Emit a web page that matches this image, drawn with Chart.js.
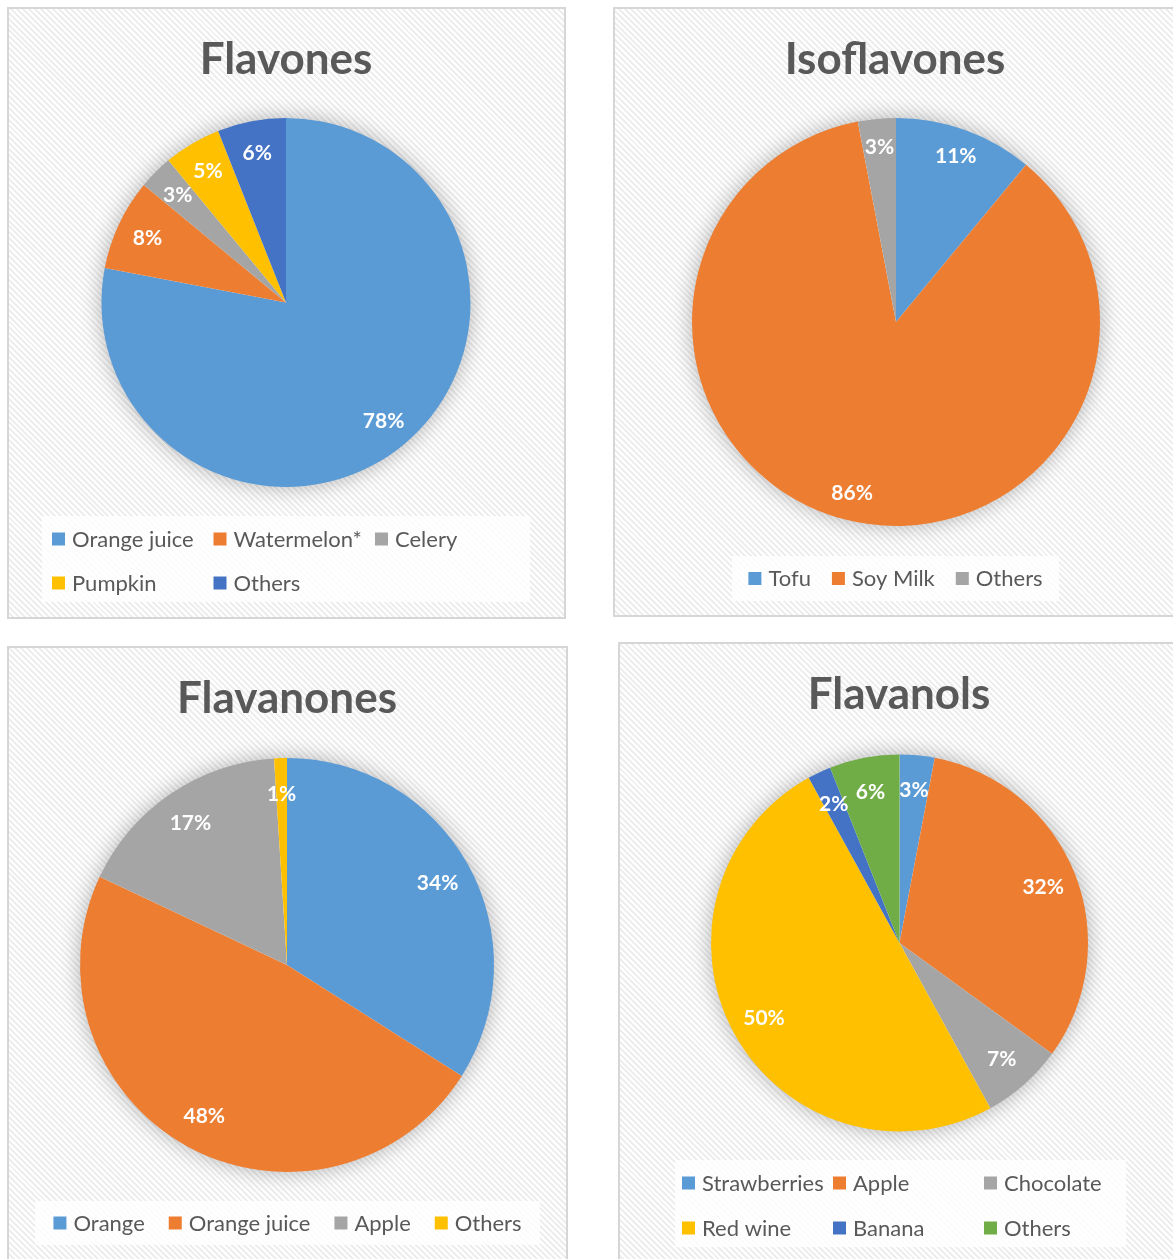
<!DOCTYPE html>
<html>
<head>
<meta charset="utf-8">
<script src="https://cdn.jsdelivr.net/npm/chart.js@4.4.1/dist/chart.umd.min.js"></script>
<style>
  html, body { margin: 0; padding: 0; background: #ffffff; }
  #page { position: relative; width: 1173px; height: 1259px; overflow: hidden; background: #ffffff; }
  .panel {
    position: absolute; box-sizing: border-box; border: 2px solid #d6d6d6;
    background: repeating-linear-gradient(45deg, #ffffff 0px, #ffffff 2.1px, #eeeeee 2.1px, #eeeeee 4.2px);
  }
  .panel canvas { position: absolute; left: -2px; top: -2px; }
</style>
</head>
<body>
<div id="page"></div>
<script>
// Flavonoid sources, share of intake (%)
const flavonesLabels = ['Orange juice', 'Watermelon*', 'Celery', 'Pumpkin', 'Others'];
const flavonesValues = [78, 8, 3, 5, 6];

const isoflavonesLabels = ['Tofu', 'Soy Milk', 'Others'];
const isoflavonesValues = [11, 86, 3];

const flavanonesLabels = ['Orange', 'Orange juice', 'Apple', 'Others'];
const flavanonesValues = [34, 48, 17, 1];

const flavanolsLabels = ['Strawberries', 'Apple', 'Chocolate', 'Red wine', 'Banana', 'Others'];
const flavanolsValues = [3, 32, 7, 50, 2, 6];

const PALETTE = ['#5B9BD5', '#ED7D31', '#A5A5A5', '#FFC000', '#4472C4', '#70AD47'];
const TEXT_GREY = '#595959';
const FONT = 'Lato, "Open Sans", sans-serif';
const TITLE_SIZE = 44, LEGEND_SIZE = 22, VALUE_SIZE = 21;
const CAP = 0.7165; // cap height / em for Lato

const panels = [
  { title: 'Flavones', labels: flavonesLabels, values: flavonesValues,
    box: { x: 7, y: 7, w: 559, h: 612 }, pie: { cx: 286, cy: 302.5, r: 184.5 },
    titlePos: { x: 286, y: 58 }, labelFrac: 0.83,
    legend: { mode: 'grid', x: 42, y: 516, w: 488, h: 86, padX: 10, colW: 161.5, cols: 3, rows: [23, 67] } },
  { title: 'Isoflavones', labels: isoflavonesLabels, values: isoflavonesValues,
    box: { x: 613, y: 7, w: 565, h: 610 }, pie: { cx: 896, cy: 322, r: 204 },
    titlePos: { x: 895, y: 58 }, labelFrac: 0.865,
    legend: { mode: 'flow', x: 732, y: 556, w: 327, h: 45, gap: 21 } },
  { title: 'Flavanones', labels: flavanonesLabels, values: flavanonesValues,
    box: { x: 7, y: 646, w: 561, h: 620 }, pie: { cx: 287, cy: 965, r: 207 },
    titlePos: { x: 287, y: 697 }, labelFrac: 0.83,
    legend: { mode: 'flow', x: 35, y: 1201, w: 505, h: 44, gap: 24 } },
  { title: 'Flavanols', labels: flavanolsLabels, values: flavanolsValues,
    box: { x: 618, y: 642, w: 560, h: 620 }, pie: { cx: 899.5, cy: 943, r: 188.5 },
    titlePos: { x: 899, y: 693 }, labelFrac: 0.82,
    legend: { mode: 'grid', x: 675, y: 1160, w: 451, h: 87, padX: 7, colW: 151, cols: 3, rows: [23, 68] } }
];

// Title, soft shadow under the pie, percentage labels and a gridded legend
function makeDecor(cfg) {
  const ox = cfg.box.x, oy = cfg.box.y;
  return {
    id: 'panelDecor',
    beforeDatasetsDraw(chart) {
      const arc = chart.getDatasetMeta(0).data[0];
      if (!arc) return;
      const ctx = chart.ctx;
      ctx.save();
      ctx.shadowColor = 'rgba(0,0,0,0.32)';
      ctx.shadowBlur = 22;
      ctx.fillStyle = '#ffffff';
      ctx.beginPath();
      ctx.arc(arc.x, arc.y, arc.outerRadius - 1, 0, Math.PI * 2);
      ctx.fill();
      ctx.restore();
    },
    afterDatasetsDraw(chart) {
      const meta = chart.getDatasetMeta(0);
      const values = chart.data.datasets[0].data;
      const ctx = chart.ctx;
      ctx.save();
      ctx.font = `bold ${VALUE_SIZE}px ${FONT}`;
      ctx.fillStyle = '#ffffff';
      ctx.textAlign = 'center';
      ctx.textBaseline = 'alphabetic';
      meta.data.forEach((a, i) => {
        const mid = (a.startAngle + a.endAngle) / 2;
        const d = a.outerRadius * cfg.labelFrac;
        ctx.fillText(values[i] + '%', a.x + Math.cos(mid) * d, a.y + Math.sin(mid) * d + VALUE_SIZE * CAP / 2);
      });
      ctx.restore();
    },
    afterDraw(chart) {
      const ctx = chart.ctx;
      const labels = chart.data.labels;
      const colors = chart.data.datasets[0].backgroundColor;
      ctx.save();
      // title
      ctx.font = `bold ${TITLE_SIZE}px ${FONT}`;
      ctx.fillStyle = TEXT_GREY;
      ctx.textAlign = 'center';
      ctx.textBaseline = 'alphabetic';
      ctx.fillText(cfg.title, cfg.titlePos.x - ox, cfg.titlePos.y - oy + TITLE_SIZE * CAP / 2);

      // legend panel
      const L = cfg.legend;
      ctx.fillStyle = 'rgba(255,255,255,0.8)';
      ctx.fillRect(L.x - ox, L.y - oy, L.w, L.h);
      ctx.font = `${LEGEND_SIZE}px ${FONT}`;
      ctx.textAlign = 'left';
      const sq = 13, textOff = 20;
      const drawItem = (i, x, yMid) => {
        ctx.fillStyle = colors[i];
        ctx.fillRect(x, yMid - sq / 2, sq, sq);
        ctx.fillStyle = TEXT_GREY;
        ctx.fillText(labels[i], x + textOff, yMid + LEGEND_SIZE * CAP / 2);
      };
      if (L.mode === 'grid') {
        labels.forEach((_, i) => {
          const col = i % L.cols, row = Math.floor(i / L.cols);
          drawItem(i, L.x - ox + L.padX + col * L.colW, L.y - oy + L.rows[row]);
        });
      } else {
        const widths = labels.map(t => textOff + ctx.measureText(t).width);
        const total = widths.reduce((s, w) => s + w, 0) + L.gap * (labels.length - 1);
        let x = L.x - ox + (L.w - total) / 2;
        const yMid = L.y - oy + L.h / 2;
        labels.forEach((_, i) => { drawItem(i, x, yMid); x += widths[i] + L.gap; });
      }
      ctx.restore();
    }
  };
}

const page = document.getElementById('page');
panels.forEach(cfg => {
  const div = document.createElement('div');
  div.className = 'panel';
  Object.assign(div.style, { left: cfg.box.x + 'px', top: cfg.box.y + 'px', width: cfg.box.w + 'px', height: cfg.box.h + 'px' });
  const canvas = document.createElement('canvas');
  canvas.width = cfg.box.w; canvas.height = cfg.box.h;
  canvas.style.width = cfg.box.w + 'px'; canvas.style.height = cfg.box.h + 'px';
  div.appendChild(canvas);
  page.appendChild(div);

  const { cx, cy, r } = cfg.pie;
  const left = cx - r - cfg.box.x, top = cy - r - cfg.box.y;
  const padding = { left, top, right: cfg.box.w - left - 2 * r, bottom: cfg.box.h - top - 2 * r };

  new Chart(canvas, {
    type: 'pie',
    data: {
      labels: cfg.labels,
      datasets: [{
        data: cfg.values,
        backgroundColor: PALETTE.slice(0, cfg.values.length),
        borderWidth: 0,
        hoverOffset: 0
      }]
    },
    options: {
      responsive: false,
      devicePixelRatio: 1,
      animation: false,
      events: [],
      layout: { padding },
      plugins: { legend: { display: false }, title: { display: false }, tooltip: { enabled: false } }
    },
    plugins: [makeDecor(cfg)]
  });
});
</script>
</body>
</html>
